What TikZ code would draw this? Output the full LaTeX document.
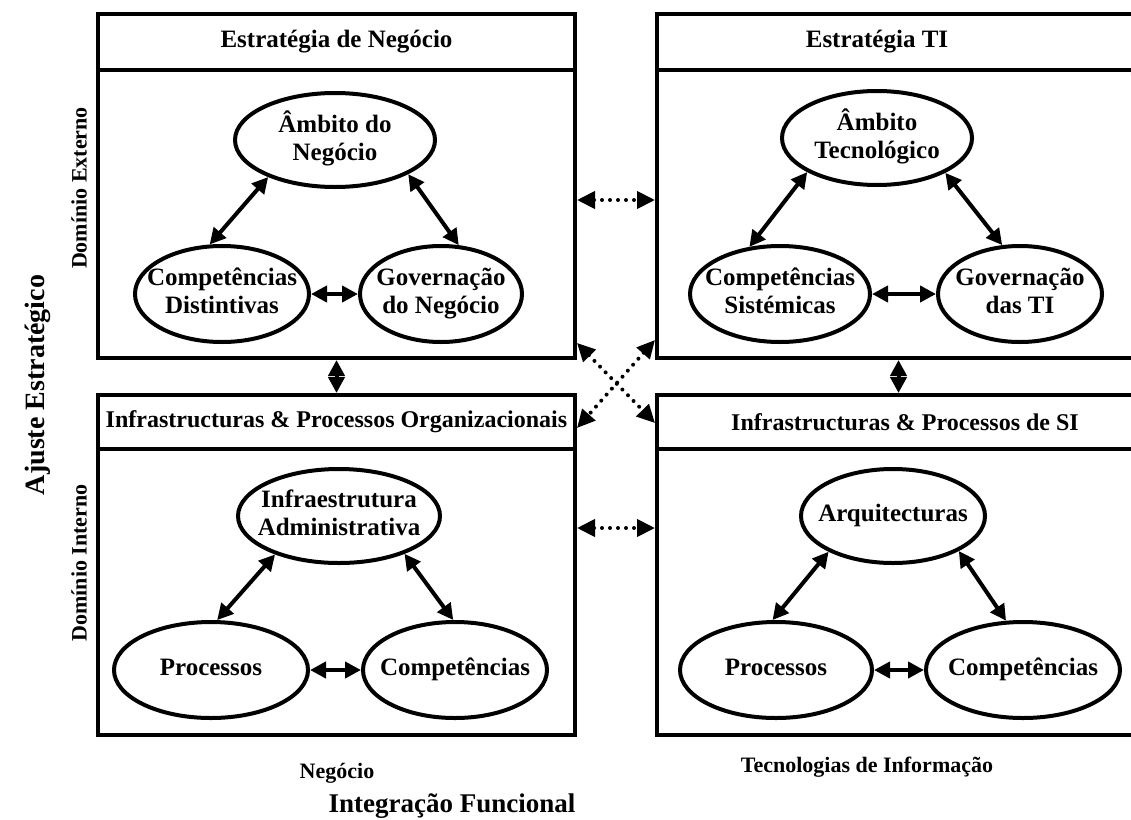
\documentclass[tikz,border=0pt]{standalone}
\usepackage{fontspec}
\setmainfont{Liberation Serif}
\usetikzlibrary{arrows.meta,shapes.geometric}

% zero-width, strutted line so that an ellipse keeps the size it is given
\newcommand{\zw}[1]{\makebox[0pt][c]{\strut #1}}

\begin{document}
\begin{tikzpicture}[x=1pt,y=-1pt,
  frame/.style={draw, line width=4pt, rectangle, inner sep=0pt},
  hdrtext/.style={font=\fontsize{25}{27}\selectfont\bfseries, inner sep=0pt},
  hdrtextsmall/.style={font=\fontsize{24}{26}\selectfont\bfseries, inner sep=0pt},
  oval/.style={draw, ellipse, line width=4pt, inner sep=0pt, align=center,
    font=\fontsize{25}{28}\selectfont\bfseries},
  link/.style={line width=4pt,
    {Triangle[length=16pt,width=16pt]}-{Triangle[length=16pt,width=16pt]}},
  dotlink/.style={line width=4pt, line cap=round, dash pattern=on 0pt off 8pt,
    {Triangle[length=18pt,width=17pt]}-{Triangle[length=18pt,width=17pt]}},
  sidelabel/.style={rotate=90, font=\fontsize{22}{24}\selectfont\bfseries, inner sep=0pt},
  axislabel/.style={font=\fontsize{27}{29}\selectfont\bfseries, inner sep=0pt},
  footlabel/.style={font=\fontsize{22}{24}\selectfont\bfseries, inner sep=0pt}]

\useasboundingbox (0,0) rectangle (1131,819);
\clip (0,0) rectangle (1131,819);

% the four domains
\node[frame, minimum width=477pt, minimum height=344pt] (TL) at (336.5,186) {};
\node[frame, minimum width=483pt, minimum height=344pt] (TR) at (898.5,186) {};
\node[frame, minimum width=477pt, minimum height=340pt] (BL) at (336.5,565) {};
\node[frame, minimum width=483pt, minimum height=340pt] (BR) at (898.5,565) {};

% title bands
\node[frame, minimum width=477pt, minimum height=56pt] (TLh) at (336.5,42) {};
\node[frame, minimum width=483pt, minimum height=56pt] (TRh) at (898.5,42) {};
\node[frame, minimum width=477pt, minimum height=54pt] (BLh) at (336.5,422) {};
\node[frame, minimum width=483pt, minimum height=54pt] (BRh) at (898.5,422) {};

\node[hdrtext] (TLt) at (336.5,42) {Estratégia de Negócio};
\node[hdrtext] (TRt) at (877,42) {Estratégia TI};
\node[hdrtextsmall] (BLt) at (336.5,422) {Infrastructuras \& Processos Organizacionais};
\node[hdrtextsmall] (BRt) at (905,422) {Infrastructuras \& Processos de SI};

% business strategy
\node[oval, minimum width=200pt, minimum height=94pt] (AN) at (335,140) {\zw{Âmbito do}\\\zw{Negócio}};
\node[oval, minimum width=174pt, minimum height=96pt] (CD) at (222,294) {\zw{Competências}\\\zw{Distintivas}};
\node[oval, minimum width=162pt, minimum height=96pt] (GN) at (441,294) {\zw{Governação}\\\zw{do Negócio}};

% IT strategy
\node[oval, minimum width=190pt, minimum height=94pt] (AT) at (877,138) {\zw{Âmbito}\\\zw{Tecnológico}};
\node[oval, minimum width=180pt, minimum height=96pt] (CS) at (780,294) {\zw{Competências}\\\zw{Sistémicas}};
\node[oval, minimum width=164pt, minimum height=96pt] (GT) at (1020,294) {\zw{Governação}\\\zw{das TI}};

% organisational infrastructure
\node[oval, minimum width=202pt, minimum height=94pt] (IA) at (339,516) {\zw{Infraestrutura}\\\zw{Administrativa}};
\node[oval, minimum width=194pt, minimum height=96pt] (P1) at (211,670) {\zw{Processos}};
\node[oval, minimum width=184pt, minimum height=96pt] (C1) at (455,670) {\zw{Competências}};

% IS infrastructure
\node[oval, minimum width=184pt, minimum height=94pt] (AR) at (893,516) {\zw{Arquitecturas}};
\node[oval, minimum width=192pt, minimum height=96pt] (P2) at (776,670) {\zw{Processos}};
\node[oval, minimum width=194pt, minimum height=96pt] (C2) at (1023,670) {\zw{Competências}};

% links inside each domain
\draw[link] (AN.209) -- (CD.104);
\draw[link] (AN.335) -- (GN.70);
\draw[link] (CD.east) -- (GN.west);

\draw[link] (AT.206) -- (CS.123);
\draw[link] (AT.333) -- (GT.110);
\draw[link] (CS.east) -- (GT.west);

\draw[link] (IA.211) -- (P1.83);
\draw[link] (IA.330) -- (C1.92);
\draw[link] (P1.east) -- (C1.west);

\draw[link] (AR.209) -- (P2.94);
\draw[link] (AR.332) -- (C2.109);
\draw[link] (P2.east) -- (C2.west);

% strategic fit
\draw[link] (TL.south) -- (BL.north);
\draw[link] (TR.south) -- (BR.north);

% functional integration
\draw[dotlink] ([yshift=-14pt]TL.east) -- ([yshift=-14pt]TR.west);
\draw[dotlink] ([yshift=37pt]BL.east) -- ([yshift=37pt]BR.west);
\draw[dotlink] ([yshift=-157pt]TL.east) -- ([yshift=142pt]BR.west);
\draw[dotlink] ([yshift=-154pt]TR.west) -- ([yshift=137pt]BL.east);

% axis labels
\node[rotate=90, font=\fontsize{28}{30}\selectfont\bfseries, inner sep=0pt] (ajuste) at (38,385) {Ajuste Estratégico};
\node[sidelabel] (dext) at (79,188) {Domínio Externo};
\node[sidelabel] (dint) at (79,563) {Domínio Interno};

\node[footlabel] (neg) at (337,773) {Negócio};
\node[footlabel] (tinf) at (867,767) {Tecnologias de Informação};
\node[axislabel] (intf) at (452,806) {Integração Funcional};
\end{tikzpicture}
\end{document}
